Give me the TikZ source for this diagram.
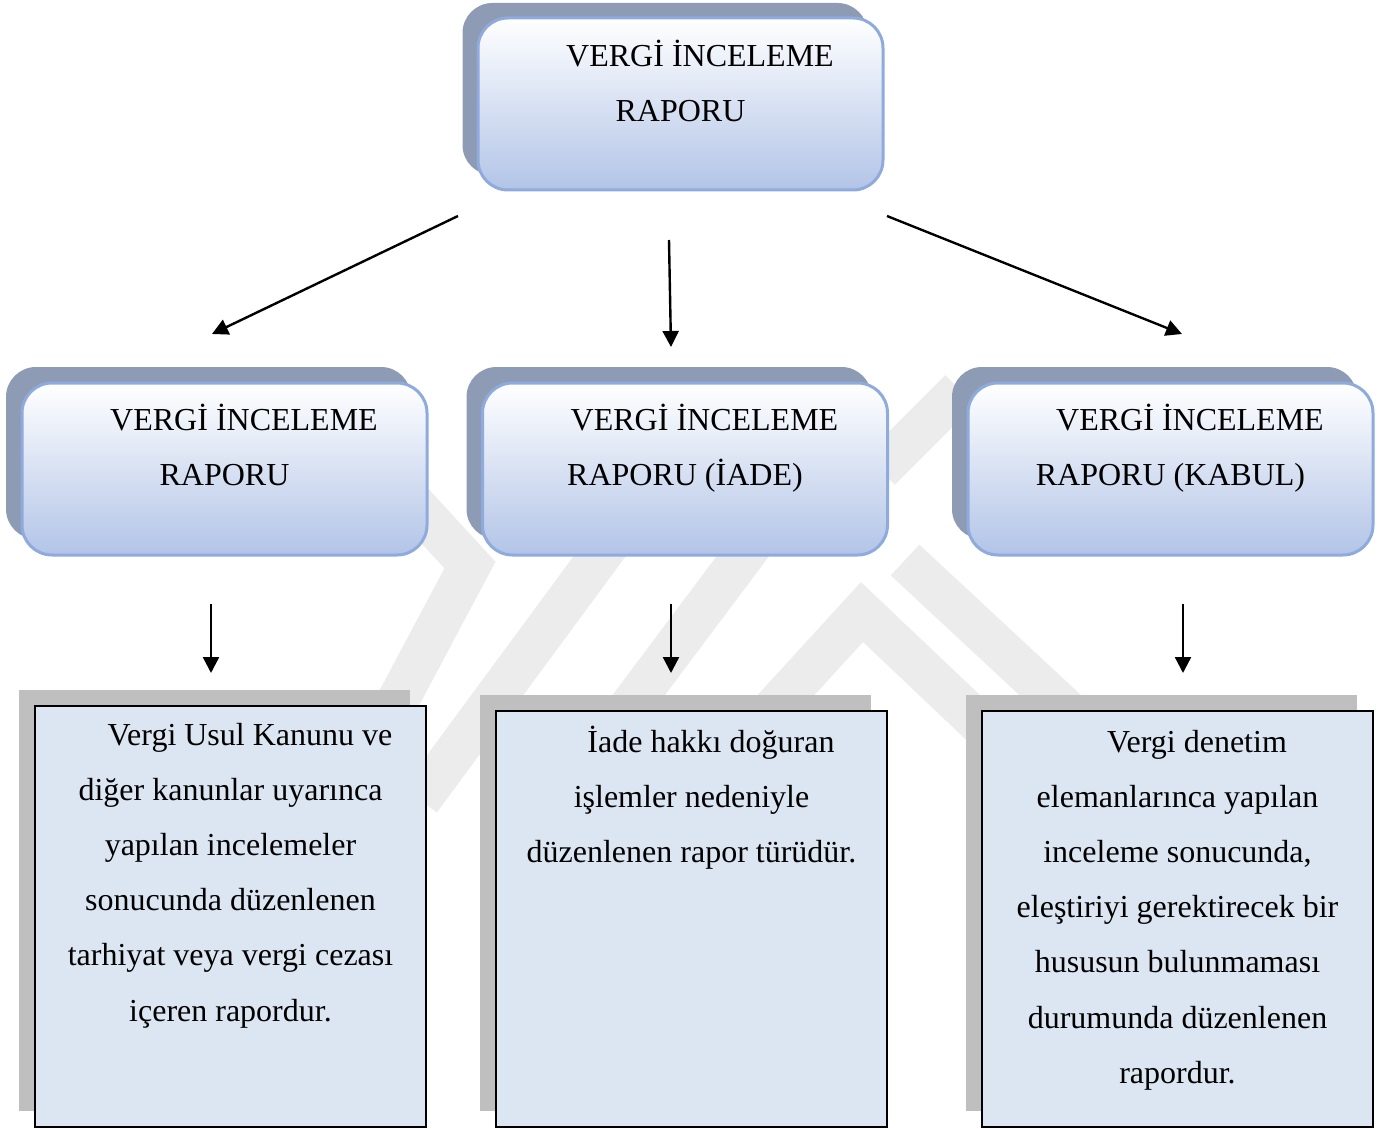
\documentclass[tikz,border=0pt]{standalone}
\usepackage{fontspec}
\setmainfont{Liberation Serif}
\usetikzlibrary{arrows.meta}

\definecolor{frameblue}{RGB}{143,170,220}
\definecolor{capshadow}{RGB}{141,155,180}
\definecolor{capbottom}{RGB}{178,196,231}
\definecolor{notefill}{RGB}{220,230,242}
\definecolor{noteshadow}{RGB}{191,191,191}
\definecolor{markgray}{RGB}{236,236,236}

% fixed line height and depth so that multi-line labels sit predictably
\newcommand{\strutTop}{\rule{0pt}{15pt}}
\newcommand{\strutBot}{\rule[-5pt]{0pt}{5pt}}
\newcommand{\indentA}{\hspace*{19.5pt}}

\begin{document}
\begin{tikzpicture}[x=0.5pt,y=-0.5pt,
  capbox/.style={draw=frameblue, line width=1.5pt, rounded corners=15pt,
    top color=white, bottom color=capbottom,
    minimum width=202.5pt, minimum height=86pt, inner sep=0pt},
  capshade/.style={fill=capshadow, rounded corners=15pt,
    minimum width=202.5pt, minimum height=86pt, inner sep=0pt},
  notebox/.style={draw=black, line width=1pt, fill=notefill,
    minimum width=195.5pt, inner sep=0pt},
  noteshade/.style={fill=noteshadow, minimum width=195.5pt, inner sep=0pt},
  txt/.style={align=center, inner sep=0pt,
    font=\fontsize{16pt}{27.6pt}\selectfont},
  link/.style={line width=1.2pt, -{Triangle[length=8pt,width=8pt]}},
  band/.style={draw=markgray, line width=21pt, line cap=butt, line join=miter}
]
\useasboundingbox (0,0) rectangle (1389,1129);

% faint background emblem
\draw[band] (318,400) -- (470,565) -- (345,800);
\draw[band] (420,800) -- (700,420);
\draw[band] (560,800) -- (860,400);
\draw[band] (690,800) -- (862,612) -- (1060,800);
\draw[band] (880,470) -- (960,390);
\draw[band] (905,560) -- (1120,760);

% top report box
\node[capshade] (sh0) at (665,89) {};
\node[capbox] (b0) at (680.5,104) {};
\node[txt] (t0) at (680.5,84.1) {\strutTop\indentA VERGİ İNCELEME\\RAPORU\strutBot};

% report type boxes
\node[capshade] (sh1) at (208.5,453) {};
\node[capbox] (b1) at (224.5,469) {};
\node[txt] (t1) at (224.5,447.6) {\strutTop\indentA VERGİ İNCELEME\\RAPORU\strutBot};

\node[capshade] (sh2) at (669,453) {};
\node[capbox] (b2) at (685,469) {};
\node[txt] (t2) at (685,447.6) {\strutTop\indentA VERGİ İNCELEME\\RAPORU (İADE)\strutBot};

\node[capshade] (sh3) at (1154.5,453) {};
\node[capbox] (b3) at (1170.5,469) {};
\node[txt] (t3) at (1170.5,447.6) {\strutTop\indentA VERGİ İNCELEME\\RAPORU (KABUL)\strutBot};

% description boxes
\node[noteshade, minimum height=210.5pt] (nsh1) at (214.5,900.5) {};
\node[notebox, minimum height=210.5pt] (n1) at (230.5,916.5) {};
\node[txt] (d1) at (230.5,873) {\strutTop\indentA Vergi Usul Kanunu ve\\diğer kanunlar uyarınca\\yapılan incelemeler\\sonucunda düzenlenen\\tarhiyat veya vergi cezası\\içeren rapordur.\strutBot};

\node[noteshade, minimum height=208pt] (nsh2) at (675.5,903) {};
\node[notebox, minimum height=208pt] (n2) at (691.5,919) {};
\node[txt] (d2) at (691.5,797.2) {\strutTop\indentA İade hakkı doğuran\\işlemler nedeniyle\\düzenlenen rapor türüdür.\strutBot};

\node[noteshade, minimum height=208pt] (nsh3) at (1161.5,903) {};
\node[notebox, minimum height=208pt] (n3) at (1177.5,919) {};
\node[txt] (d3) at (1177.5,907.6) {\strutTop\indentA Vergi denetim\\elemanlarınca yapılan\\inceleme sonucunda,\\eleştiriyi gerektirecek bir\\hususun bulunmaması\\durumunda düzenlenen\\rapordur.\strutBot};

% arrow end points
\coordinate (s1) at (458,216);  \coordinate (e1) at (212,334);
\coordinate (s2) at (669,240);  \coordinate (e2) at (671,347);
\coordinate (s3) at (887,216);  \coordinate (e3) at (1182,334);
\coordinate (s4) at (211,604);  \coordinate (e4) at (211,673);
\coordinate (s5) at (671,604);  \coordinate (e5) at (671,673);
\coordinate (s6) at (1183,604); \coordinate (e6) at (1183,673);

\draw[link] (s1) -- (e1);
\draw[link] (s2) -- (e2);
\draw[link] (s3) -- (e3);
\draw[link] (s4) -- (e4);
\draw[link] (s5) -- (e5);
\draw[link] (s6) -- (e6);
\end{tikzpicture}
\end{document}
